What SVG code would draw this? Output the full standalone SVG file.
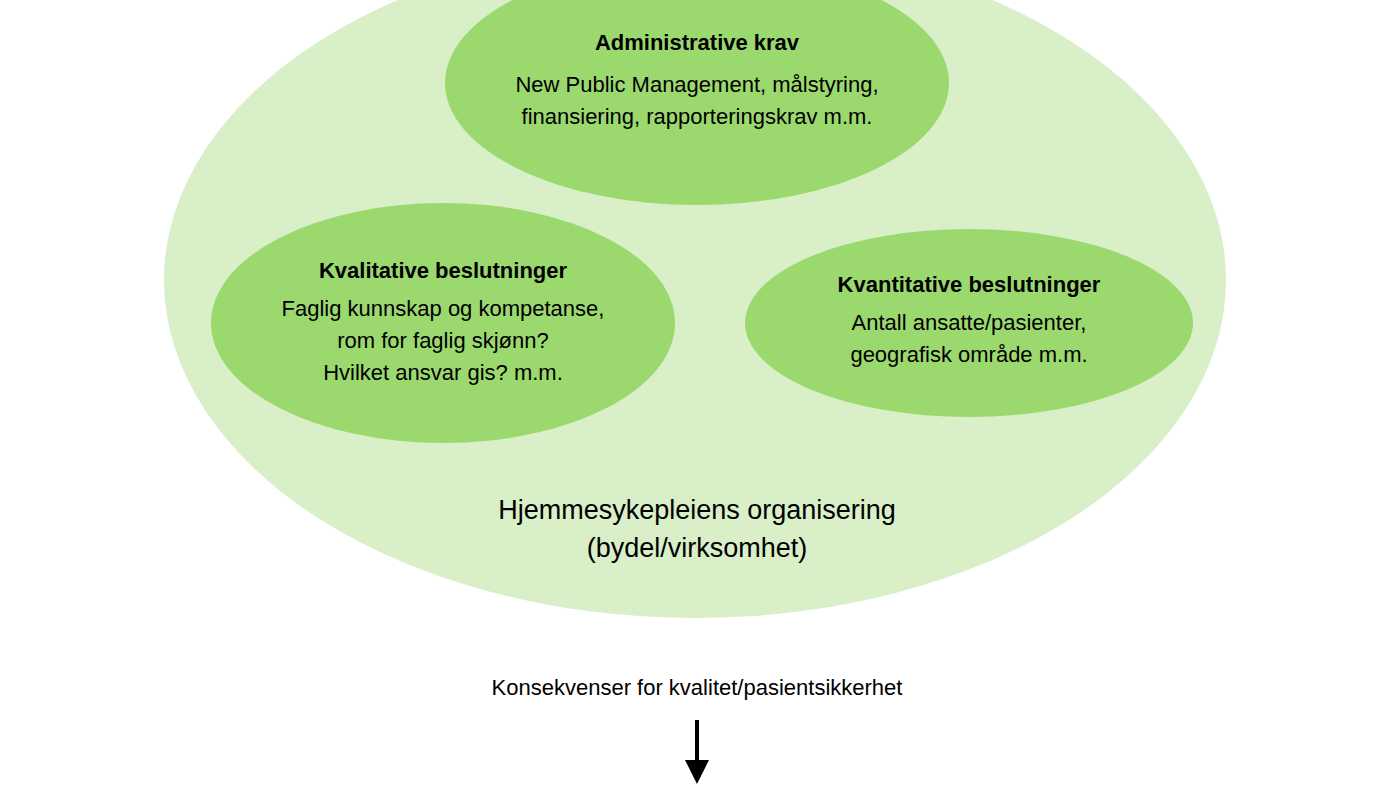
<svg xmlns="http://www.w3.org/2000/svg" width="1400" height="786" viewBox="0 0 1400 786">
<style>
text{font-family:"Liberation Sans",Arial,sans-serif;fill:#000;text-anchor:middle}
.b{font-weight:bold;font-size:22px}
.t{font-size:22px}
.inner{fill:#9bd96f}
</style>
<defs><marker id="ah" markerWidth="6" markerHeight="6" refX="3" refY="3" orient="auto" markerUnits="strokeWidth"><path d="M0,0L6,3L0,6z" fill="#000"/></marker></defs>
<rect width="1400" height="786" fill="#fff"/>
<g id="organisering">
<ellipse cx="695" cy="280" rx="531" ry="338" fill="#d8efc8"/>
<text class="t" x="697" y="519" style="font-size:27px">Hjemmesykepleiens organisering</text>
<text class="t" x="697" y="557" style="font-size:27px">(bydel/virksomhet)</text>
</g>
<g id="administrative">
<ellipse class="inner" cx="697" cy="83" rx="252" ry="122"/>
<text class="b" x="697" y="50">Administrative krav</text>
<text class="t" x="697" y="92">New Public Management, målstyring,</text>
<text class="t" x="697" y="124">finansiering, rapporteringskrav m.m.</text>
</g>
<g id="kvalitative">
<ellipse class="inner" cx="443" cy="323" rx="232" ry="120"/>
<text class="b" x="443" y="278">Kvalitative beslutninger</text>
<text class="t" x="443" y="316">Faglig kunnskap og kompetanse,</text>
<text class="t" x="443" y="348">rom for faglig skjønn?</text>
<text class="t" x="443" y="380">Hvilket ansvar gis? m.m.</text>
</g>
<g id="kvantitative">
<ellipse class="inner" cx="969" cy="323" rx="224" ry="94"/>
<text class="b" x="969" y="292">Kvantitative beslutninger</text>
<text class="t" x="969" y="330">Antall ansatte/pasienter,</text>
<text class="t" x="969" y="362">geografisk område m.m.</text>
</g>
<g id="konsekvenser">
<text class="t" x="697" y="695">Konsekvenser for kvalitet/pasientsikkerhet</text>
</g>
<g id="connectors">
<line x1="697" y1="720" x2="697" y2="772" stroke="#000" stroke-width="4" marker-end="url(#ah)"/>
</g>
</svg>
